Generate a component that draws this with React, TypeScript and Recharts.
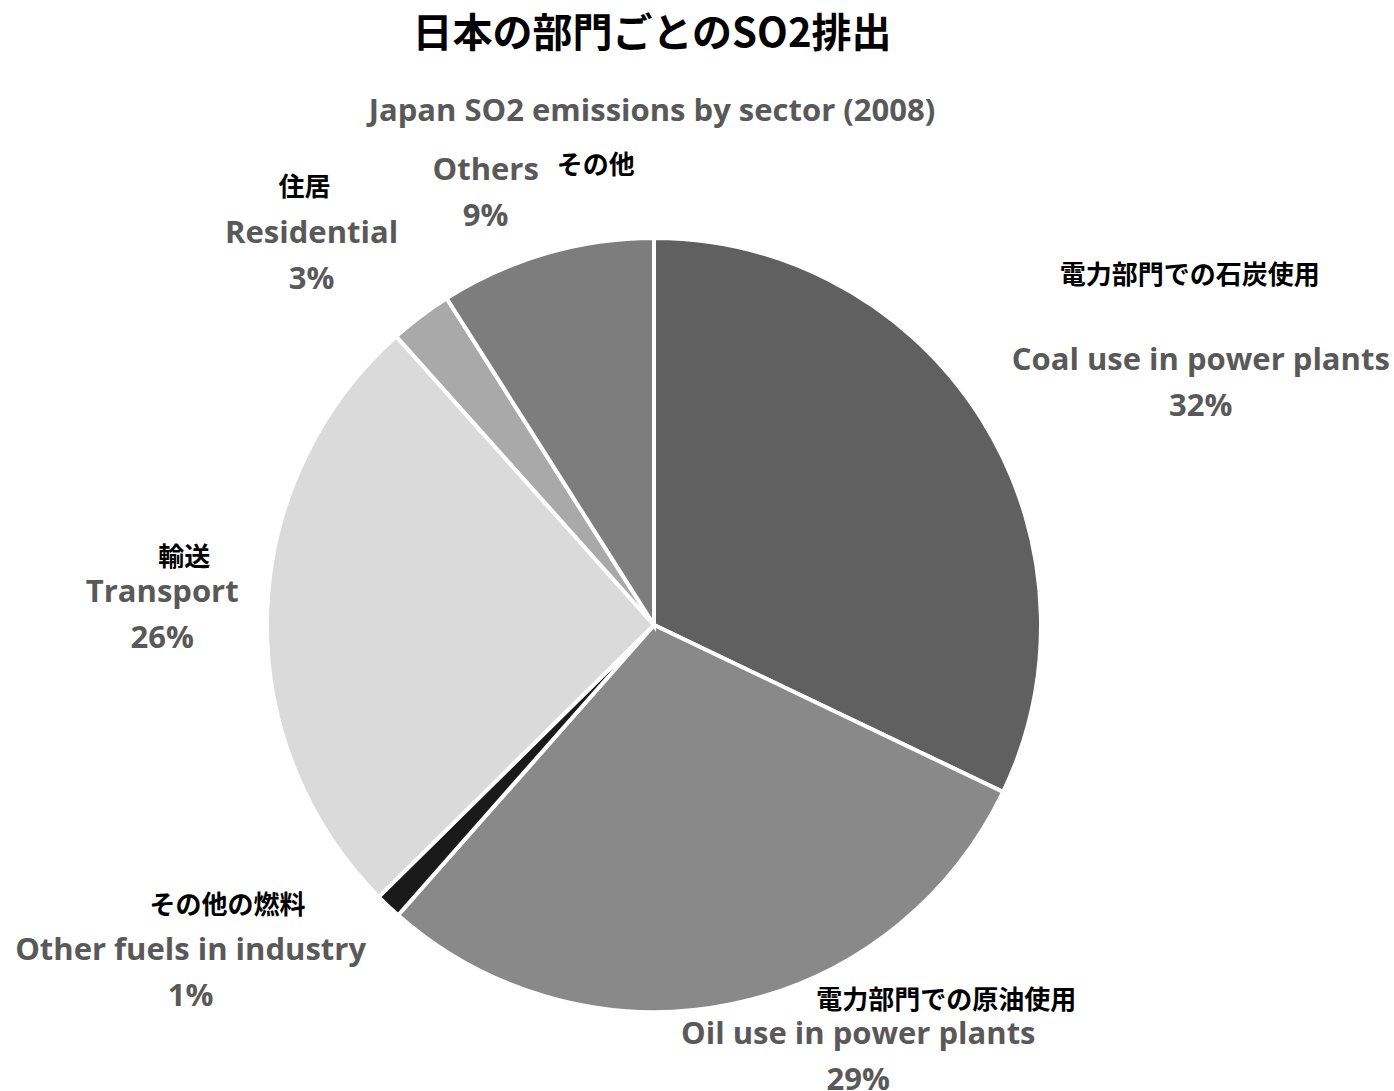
import React from 'react'
import { PieChart, Pie, Cell } from 'recharts'

// sector shares (%), clockwise from 12 o'clock
const sectorsEn = ['Coal use in power plants', 'Oil use in power plants', 'Other fuels in industry', 'Transport', 'Residential', 'Others']
const sectorsJa = ['電力部門での石炭使用', '電力部門での原油使用', 'その他の燃料', '輸送', '住居', 'その他']
const shares = [32.1, 29.4, 1.1, 25.8, 2.6, 9.0]
const sliceColors = ['#606060', '#898989', '#1a1a1a', '#dadada', '#a9a9a9', '#7d7d7d']

// label nudges from the point just outside each slice (text layout only)
const enNudge = [[194, -45], [121, -2], [-177, 20], [-75, -22], [-91, -61], [-52, -57]]
const jaNudge = [[-11, -85], [88, -34], [37, -46], [22, -35], [-7, -47], [110, -5]]

const data = sectorsEn.map((name, i) => ({ name, ja: sectorsJa[i], value: shares[i] }))

const RAD = Math.PI / 180
const EN_FONT = '"Open Sans", sans-serif'
const JA_FONT = '"Noto Sans CJK JP", sans-serif'

function renderLabel(props: any) {
  const { cx, cy, midAngle, outerRadius, index, percent } = props
  const r = outerRadius + 30
  const bx = cx + r * Math.cos(-midAngle * RAD)
  const by = cy + r * Math.sin(-midAngle * RAD)
  const x = bx + enNudge[index][0]
  const y = by + enNudge[index][1]
  return (
    <g key={`lbl-${index}`}>
      <text x={x + jaNudge[index][0]} y={y + jaNudge[index][1]} textAnchor="middle" dominantBaseline="central"
        fontFamily={JA_FONT} fontWeight={700} fontSize={26} fill="#000">
        {data[index].ja}
      </text>
      <text x={x} y={y} textAnchor="middle" dominantBaseline="central"
        fontFamily={EN_FONT} fontWeight={700} fontSize={31} fill="#595959">
        {data[index].name}
      </text>
      <text x={x} y={y + 46} textAnchor="middle" dominantBaseline="central"
        fontFamily={EN_FONT} fontWeight={700} fontSize={31} fill="#595959">
        {`${Math.round(percent * 100)}%`}
      </text>
    </g>
  )
}

export default function App() {
  return (
    <div style={{ position: 'absolute', left: 0, top: 0, width: 1394, height: 1091, background: '#fff' }}>
      <div style={{ position: 'absolute', left: 0, width: 1304, top: 4, textAlign: 'center', fontFamily: JA_FONT, fontWeight: 700, fontSize: 40, color: '#000', lineHeight: '52px' }}>
        日本の部門ごとのSO2排出
      </div>
      <div style={{ position: 'absolute', left: 0, width: 1304, top: 88, textAlign: 'center', fontFamily: EN_FONT, fontWeight: 700, fontSize: 31, color: '#595959', lineHeight: '42px' }}>
        Japan SO2 emissions by sector (2008)
      </div>
      <div style={{ position: 'absolute', left: 0, top: 0 }}>
        <PieChart width={1394} height={1091} margin={{ top: 0, right: 0, bottom: 0, left: 0 }}>
          <Pie
            data={data}
            dataKey="value"
            nameKey="name"
            cx={654}
            cy={625}
            outerRadius={387}
            startAngle={90}
            endAngle={-270}
            stroke="#ffffff"
            strokeWidth={4}
            labelLine={false}
            label={renderLabel}
            isAnimationActive={false}
          >
            {data.map((d, i) => (
              <Cell key={d.name} fill={sliceColors[i]} />
            ))}
          </Pie>
        </PieChart>
      </div>
    </div>
  )
}
